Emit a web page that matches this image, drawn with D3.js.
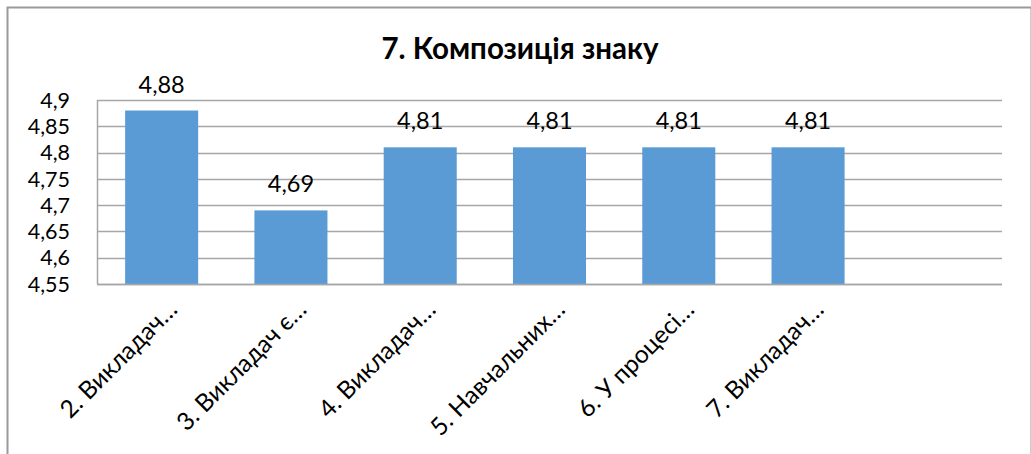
<!DOCTYPE html>
<html>
<head>
<meta charset="utf-8">
<script src="https://cdn.jsdelivr.net/npm/d3@7"></script>
<style>
  body { margin: 0; background: #fff; }
  text { font-family: Lato, "Open Sans", sans-serif; fill: #000; }
</style>
</head>
<body>
<div id="chart"></div>
<script>
// Chart data
const categories = ["2. Викладач…", "3. Викладач є…", "4. Викладач…", "5. Навчальних…", "6. У процесі…", "7. Викладач…", ""];
const values = [4.88, 4.69, 4.81, 4.81, 4.81, 4.81, null];
const yTicks = [4.55, 4.6, 4.65, 4.7, 4.75, 4.8, 4.85, 4.9];
const title = "7. Композиція знаку";

const width = 1031, height = 454;
const margin = { top: 100, right: 29, bottom: 170, left: 97 };

const svg = d3.select("#chart")
  .append("svg")
  .attr("width", width)
  .attr("height", height);

// outer chart border
svg.append("rect")
  .attr("x", 7.5).attr("y", 7.5)
  .attr("width", width - 7).attr("height", height)
  .attr("fill", "none")
  .attr("stroke", "#9a9a9a")
  .attr("stroke-width", 2);

const x = d3.scaleBand()
  .domain(d3.range(categories.length))
  .range([margin.left, width - margin.right])
  .paddingInner(0.435)
  .paddingOuter(0.2175);

const y = d3.scaleLinear()
  .domain([4.55, 4.9])
  .range([height - margin.bottom, margin.top]);

const fmt = v => String(v).replace(".", ",");

// gridlines
svg.append("g")
  .selectAll("line")
  .data(yTicks)
  .join("line")
  .attr("x1", margin.left).attr("x2", width - margin.right)
  .attr("y1", d => Math.round(y(d)) + 0.5).attr("y2", d => Math.round(y(d)) + 0.5)
  .attr("stroke", "#a6a6a6")
  .attr("stroke-width", 1.5);

// left axis line
svg.append("line")
  .attr("x1", margin.left + 0.5).attr("x2", margin.left + 0.5)
  .attr("y1", y(4.9)).attr("y2", y(4.55))
  .attr("stroke", "#a6a6a6")
  .attr("stroke-width", 1.5);

// y tick labels
svg.append("g")
  .selectAll("text")
  .data(yTicks)
  .join("text")
  .attr("x", margin.left - 27)
  .attr("y", d => y(d))
  .attr("dy", "0.36em")
  .attr("text-anchor", "end")
  .style("font-size", "21.5px")
  .text(fmt);

const barData = values.map((v, i) => ({ i, v })).filter(d => d.v != null);

// bars
svg.append("g")
  .selectAll("rect")
  .data(barData)
  .join("rect")
  .attr("x", d => x(d.i))
  .attr("y", d => y(d.v))
  .attr("width", x.bandwidth())
  .attr("height", d => y(4.55) - y(d.v))
  .attr("fill", "#5b9bd5");

// bottom axis line
svg.append("line")
  .attr("x1", margin.left).attr("x2", width - margin.right)
  .attr("y1", y(4.55) + 0.5).attr("y2", y(4.55) + 0.5)
  .attr("stroke", "#a6a6a6")
  .attr("stroke-width", 1.5);

// value labels
svg.append("g")
  .selectAll("text")
  .data(barData)
  .join("text")
  .attr("x", d => x(d.i) + x.bandwidth() / 2)
  .attr("y", d => y(d.v) - 18)
  .attr("text-anchor", "middle")
  .style("font-size", "23.5px")
  .text(d => fmt(d.v));

// category labels, rotated
svg.append("g")
  .selectAll("text")
  .data(categories)
  .join("text")
  .attr("transform", (d, i) => `translate(${x(i) + x.bandwidth() / 2 + 11},${y(4.55) + 21}) rotate(-45)`)
  .attr("text-anchor", "end")
  .attr("dy", "0.35em")
  .style("font-size", "24.5px")
  .text(d => d);

// title
svg.append("text")
  .attr("x", 520)
  .attr("y", 59)
  .attr("text-anchor", "middle")
  .style("font-size", "29.5px")
  .style("font-weight", "bold")
  .text(title);
</script>
</body>
</html>
